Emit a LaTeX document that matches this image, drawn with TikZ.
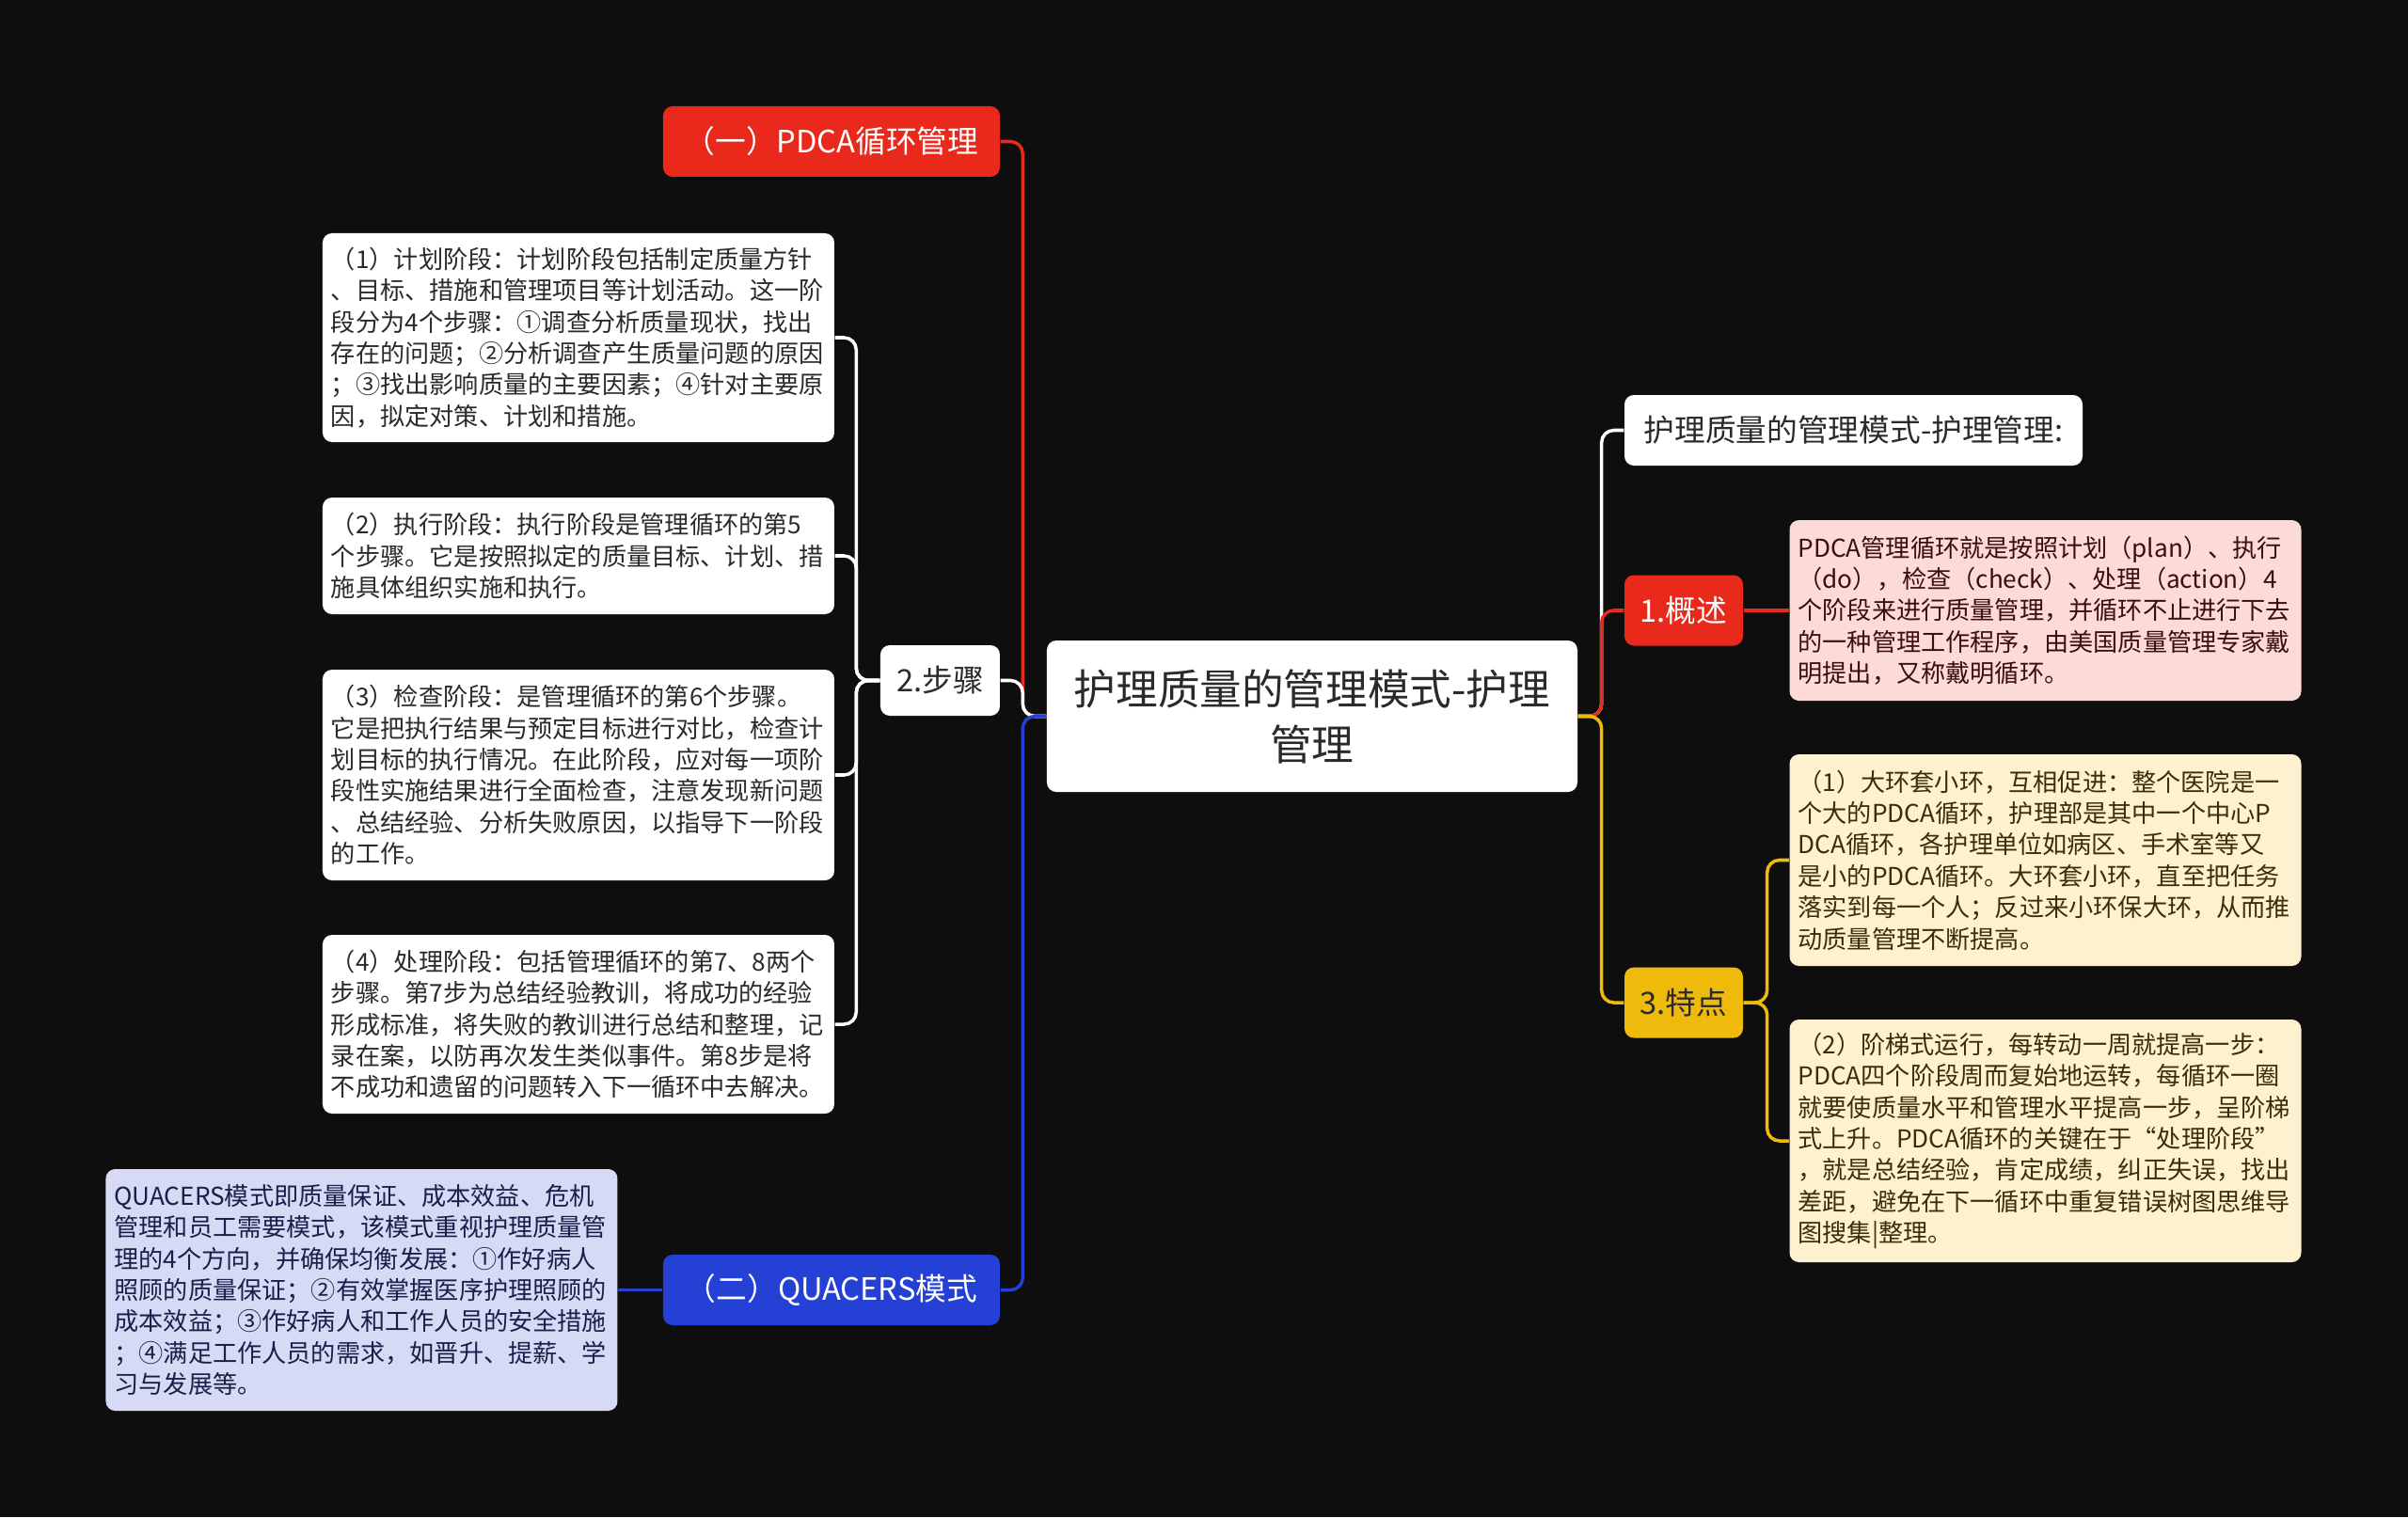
\documentclass[tikz,border=0pt]{standalone}
\usepackage{fontspec}
\setmainfont{Noto Sans CJK SC}
\usepackage{xcolor}
\usepackage{tikz}
\definecolor{bgc}{HTML}{0E0E0E}
\definecolor{redc}{HTML}{E8291B}
\definecolor{bluec}{HTML}{2540D4}
\definecolor{yellowc}{HTML}{F0BA0C}
\definecolor{pinkc}{HTML}{FCDAD8}
\definecolor{creamc}{HTML}{FDF1D0}
\definecolor{lavc}{HTML}{D6DAF5}
\definecolor{darkc}{HTML}{2A2A2A}
\definecolor{pinktxt}{HTML}{3B0D0D}
\definecolor{creamtxt}{HTML}{3A2E0A}
\definecolor{lavtxt}{HTML}{1A1F4A}
\tikzset{
	main node/.style={rectangle,fill=white,rounded corners=0.1cm,text=darkc,font=\fontsize{12.7}{16.8}\selectfont,align=center,minimum width=5.64cm,minimum height=1.61cm},
	topic node/.style={rectangle,fill=white,rounded corners=0.1cm,text=darkc,font=\fontsize{9.3}{11}\selectfont,minimum height=0.75cm,inner sep=0pt},
	leaf node/.style={rectangle,fill=white,rounded corners=0.1cm,text=darkc,font=\fontsize{7.45}{9.5}\selectfont,text width=5.26cm,inner xsep=0.09cm,inner ysep=0.08cm,align=left},
	elbow left/.style={to path={-- ++(-0.25,0) |- (\tikztotarget)}},
	elbow right/.style={to path={-- ++(0.25,0) |- (\tikztotarget)}}
}

\begin{document}
\begin{tikzpicture}[node distance=1cm]
		\useasboundingbox (-13.95,7.615) rectangle (11.65,-8.515);
		\fill[bgc] (-13.95,7.615) rectangle (11.65,-8.515);

		% centre and left side
		\node[main node] (1) {护理质量的管理模式-护理\\管理};
		\node[topic node,minimum width=1.27cm] (2) [left of=1,xshift=-2.955cm,yshift=0.38cm] {2.步骤};
		\node[topic node,minimum width=3.58cm,fill=redc,text=white] (3) [above of=2,xshift=-1.155cm,yshift=4.73cm] {（一）PDCA循环管理};
		\node[topic node,minimum width=3.58cm,fill=bluec,text=white] (4) [below of=2,xshift=-1.155cm,yshift=-5.48cm] {（二）QUACERS模式};
		\node[leaf node,minimum height=2.22cm] (5) [left of=2,xshift=-2.845cm,yshift=3.645cm] {（1）计划阶段：计划阶段包括制定质量方针\\、目标、措施和管理项目等计划活动。这一阶\\段分为4个步骤：①调查分析质量现状，找出\\存在的问题；②分析调查产生质量问题的原因\\；③找出影响质量的主要因素；④针对主要原\\因，拟定对策、计划和措施。};
		\node[leaf node,minimum height=1.24cm] (6) [below of=5,yshift=-1.32cm] {（2）执行阶段：执行阶段是管理循环的第5\\个步骤。它是按照拟定的质量目标、计划、措\\施具体组织实施和执行。};
		\node[leaf node,minimum height=2.24cm] (7) [below of=6,yshift=-1.33cm] {（3）检查阶段：是管理循环的第6个步骤。\\它是把执行结果与预定目标进行对比，检查计\\划目标的执行情况。在此阶段，应对每一项阶\\段性实施结果进行全面检查，注意发现新问题\\、总结经验、分析失败原因，以指导下一阶段\\的工作。};
		\node[leaf node,minimum height=1.90cm] (8) [below of=7,yshift=-1.65cm] {（4）处理阶段：包括管理循环的第7、8两个\\步骤。第7步为总结经验教训，将成功的经验\\形成标准，将失败的教训进行总结和整理，记\\录在案，以防再次发生类似事件。第8步是将\\不成功和遗留的问题转入下一循环中去解决。};
		\node[leaf node,minimum height=2.57cm,fill=lavc,text=lavtxt] (9) [left of=4,xshift=-3.995cm] {QUACERS模式即质量保证、成本效益、危机\\管理和员工需要模式，该模式重视护理质量管\\理的4个方向，并确保均衡发展：①作好病人\\照顾的质量保证；②有效掌握医序护理照顾的\\成本效益；③作好病人和工作人员的安全措施\\；④满足工作人员的需求，如晋升、提薪、学\\习与发展等。};

		% right side
		\node[topic node,minimum width=1.26cm,fill=redc,text=white] (10) [right of=1,xshift=2.95cm,yshift=1.125cm] {1.概述};
		\node[topic node,minimum width=4.87cm] (11) [above of=10,xshift=1.805cm,yshift=0.915cm] {护理质量的管理模式-护理管理:};
		\node[leaf node,minimum height=1.92cm,fill=pinkc,text=pinktxt] (12) [right of=10,xshift=2.845cm] {PDCA管理循环就是按照计划（plan）、执行\\（do），检查（check）、处理（action）4\\个阶段来进行质量管理，并循环不止进行下去\\的一种管理工作程序，由美国质量管理专家戴\\明提出，又称戴明循环。};
		\node[topic node,minimum width=1.26cm,fill=yellowc,text=darkc] (13) [below of=10,yshift=-3.17cm] {3.特点};
		\node[leaf node,minimum height=2.25cm,fill=creamc,text=creamtxt] (14) [below of=12,yshift=-1.655cm] {（1）大环套小环，互相促进：整个医院是一\\个大的PDCA循环，护理部是其中一个中心P\\DCA循环，各护理单位如病区、手术室等又\\是小的PDCA循环。大环套小环，直至把任务\\落实到每一个人；反过来小环保大环，从而推\\动质量管理不断提高。};
		\node[leaf node,minimum height=2.58cm,fill=creamc,text=creamtxt] (15) [below of=14,yshift=-1.985cm] {（2）阶梯式运行，每转动一周就提高一步：\\PDCA四个阶段周而复始地运转，每循环一圈\\就要使质量水平和管理水平提高一步，呈阶梯\\式上升。PDCA循环的关键在于“处理阶段”\\，就是总结经验，肯定成绩，纠正失误，找出\\差距，避免在下一循环中重复错误树图思维导\\图搜集|整理。};

		\path[line width=1pt,rounded corners=0.13cm]
		  (1.west) edge[redc,elbow left] (3.east)
		  (1.west) edge[white,elbow left] (2.east)
		  (1.west) edge[bluec,elbow left] (4.east)
		  (2.west) edge[white,elbow left] (5.east)
		  (2.west) edge[white,elbow left] (6.east)
		  (2.west) edge[white,elbow left] (7.east)
		  (2.west) edge[white,elbow left] (8.east)
		  (4.west) edge[bluec] (9.east)
		  (1.east) edge[white,elbow right] (11.west)
		  (1.east) edge[redc,elbow right] (10.west)
		  (1.east) edge[yellowc,elbow right] (13.west)
		  (10.east) edge[redc] (12.west)
		  (13.east) edge[yellowc,elbow right] (14.west)
		  (13.east) edge[yellowc,elbow right] (15.west);
\end{tikzpicture}
\end{document}
